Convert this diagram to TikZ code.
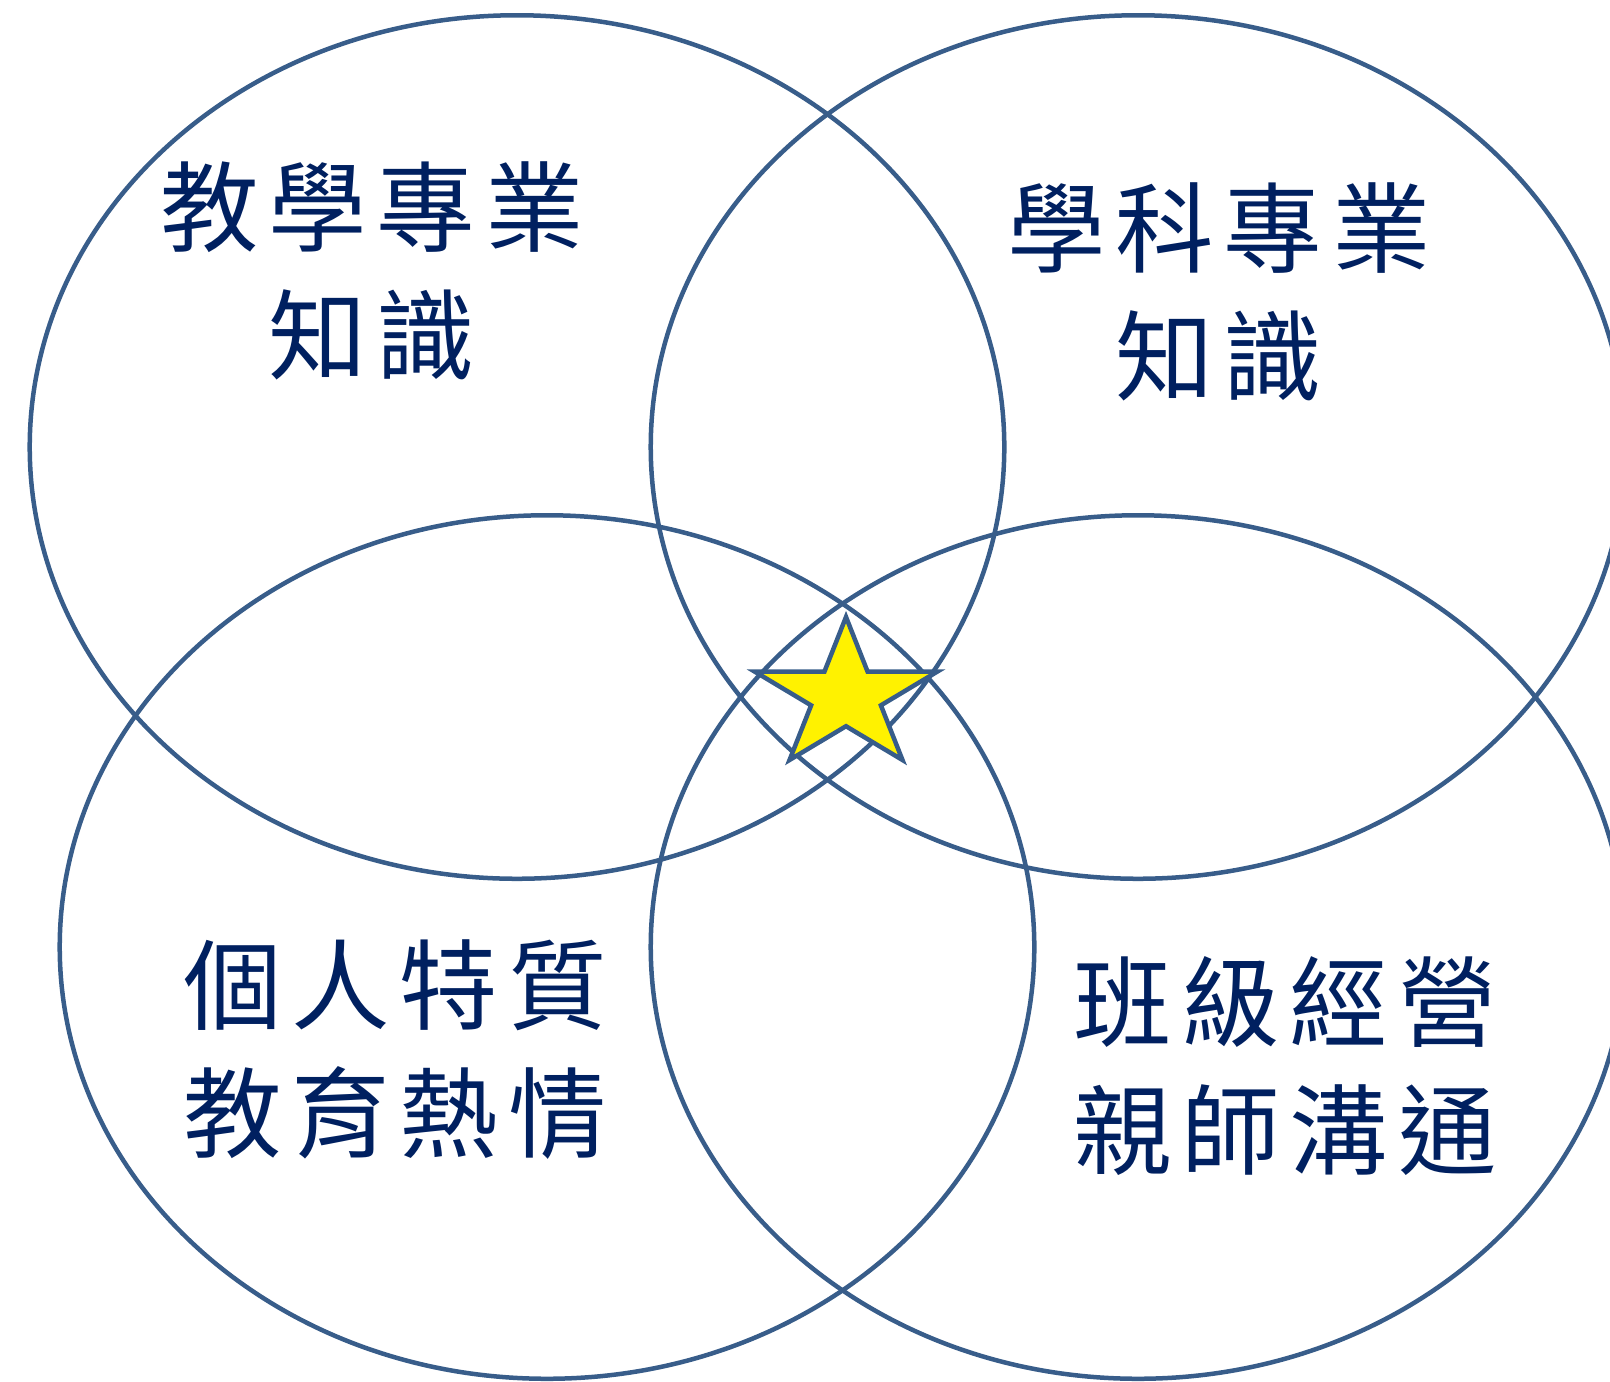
\documentclass[tikz,border=0pt]{standalone}
\usepackage{fontspec}
\usepackage{xcolor}
\usepackage{tikz}
\usetikzlibrary{shapes.geometric, positioning}
\newfontfamily\cjkfont{Noto Sans CJK TC}
\definecolor{ringblue}{HTML}{385D8A}
\definecolor{labelblue}{HTML}{002060}
\newcommand{\cg}{\hspace{0.1em}}

\begin{document}
\begin{tikzpicture}[
    x=0.01cm, y=-0.01cm,
    ring/.style={ellipse, draw=ringblue, line width=0.045cm, minimum width=9.74cm, minimum height=8.63cm, inner sep=0pt},
    areatext/.style={font=\cjkfont\fontsize{28pt}{36.4pt}\selectfont, text=labelblue, align=center, inner sep=0pt},
    centerstar/.style={star, star points=5, star point ratio=2.618, draw=ringblue, fill=yellow, line width=0.045cm, minimum size=1.58cm, inner sep=0pt, xscale=1.215}
]
\useasboundingbox (0,0) rectangle (1610,1381);
\clip (0,0) rectangle (1610,1381);

% Four circles
\node[ring] (teachring) at (517,447) {};
\node[ring] (subjectring) at (1138,447) {};
\node[ring] (personring) at (547,947) {};
\node[ring] (classring) at (1138,947) {};

% Labels
\node[areatext] (teach) at (372,271) {教\cg 學\cg 專\cg 業\\知\cg 識};
\node[areatext] (subject) at (1219,292) {學\cg 科\cg 專\cg 業\\知\cg 識};
\node[areatext] (person) at (395,1050) {個\cg 人\cg 特\cg 質\\教\cg 育\cg 熱\cg 情};
\node[areatext] (classroom) at (1285,1066) {班\cg 級\cg 經\cg 營\\親\cg 師\cg 溝\cg 通};

% Star in the middle
\node[centerstar] (core) at (846,696) {};

\end{tikzpicture}
\end{document}
